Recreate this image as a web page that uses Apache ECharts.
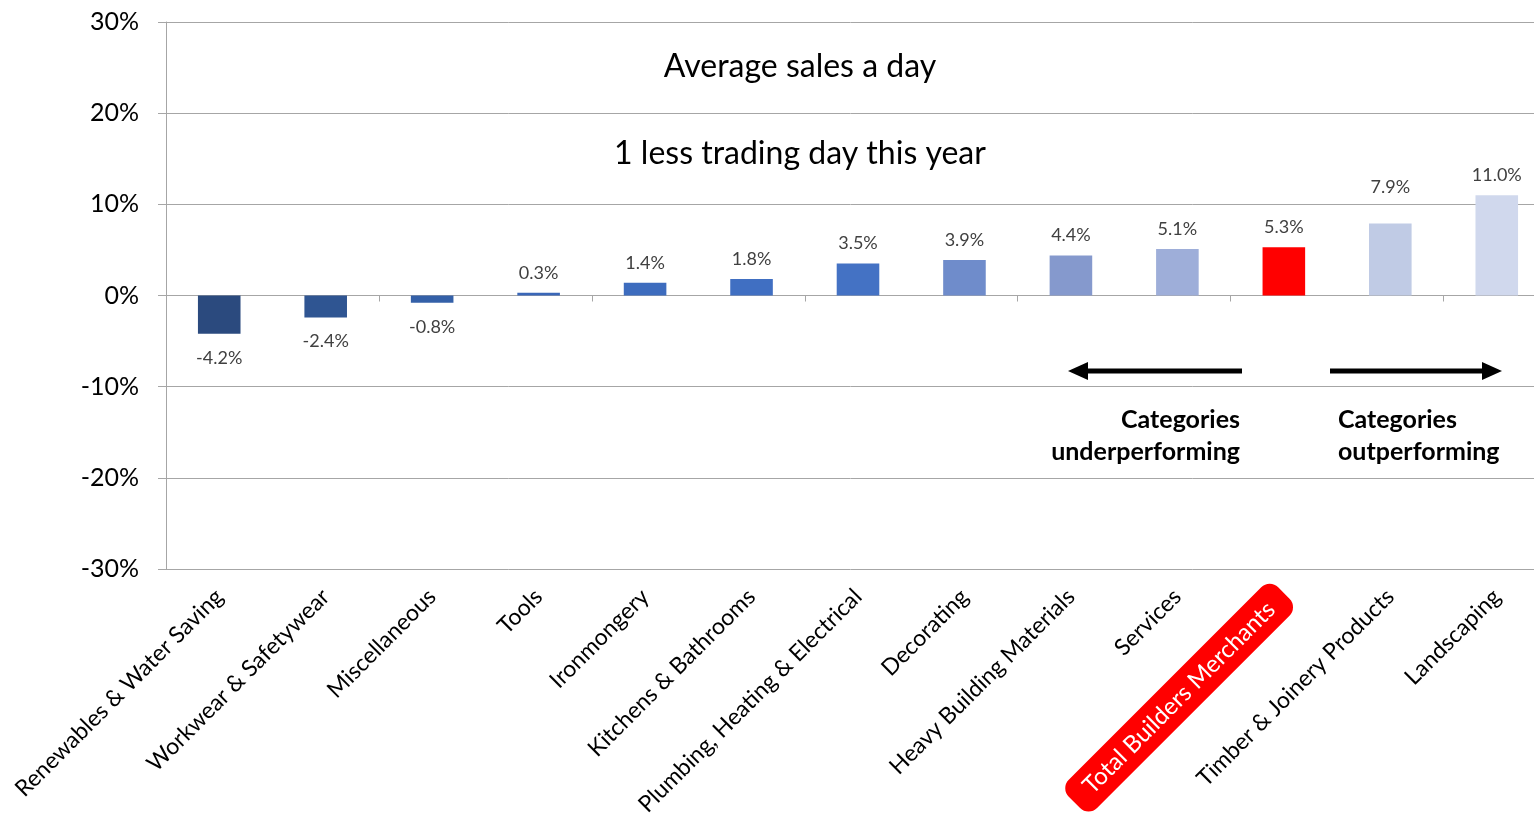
<!DOCTYPE html>
<html>
<head>
<meta charset="utf-8">
<script src="https://cdn.jsdelivr.net/npm/echarts@6/dist/echarts.min.js"></script>
<style>
  html, body { margin: 0; padding: 0; background: #fff; }
  #main { width: 1534px; height: 821px; }
</style>
</head>
<body>
<div id="main"></div>
<script>
// data
const categories = [
  'Renewables & Water Saving', 'Workwear & Safetywear', 'Miscellaneous', 'Tools',
  'Ironmongery', 'Kitchens & Bathrooms', 'Plumbing, Heating & Electrical', 'Decorating',
  'Heavy Building Materials', 'Services', 'Total Builders Merchants',
  'Timber & Joinery Products', 'Landscaping'
];
const values = [-4.2, -2.4, -0.8, 0.3, 1.4, 1.8, 3.5, 3.9, 4.4, 5.1, 5.3, 7.9, 11.0];
const yMin = -30, yMax = 30, yStep = 10;
const totalName = 'Total Builders Merchants';

// bar colours, dark blue -> light, total in red
const barColors = [
  '#2b4a7e', '#2f5592', '#3460a8', '#3a67b8', '#3d6cbe', '#406fc2', '#4472c4',
  '#6f8ccb', '#8599cd', '#9eaed9', '#ff0000', '#c0cbe5', '#d0d8ed'
];

const FONT = 'Lato, "Open Sans", sans-serif';
const chart = echarts.init(document.getElementById('main'));

const option = {
  animation: false,
  title: [
    {
      text: 'Average sales a day', left: 795, top: 46, textAlign: 'center',
      textStyle: { fontFamily: FONT, fontSize: 32, fontWeight: 'normal', color: '#000' }
    },
    {
      text: '1 less trading day this year', left: 795, top: 133, textAlign: 'center',
      textStyle: { fontFamily: FONT, fontSize: 32, fontWeight: 'normal', color: '#000' }
    }
  ],
  // plot runs a little past the right edge of the picture
  grid: { left: 166, width: 1384, top: 22, bottom: 252, containLabel: false, outerBoundsMode: 'none' },
  xAxis: [
    {
      type: 'category',
      data: categories,
      position: 'bottom',
      axisLine: { show: false, onZero: false },
      axisTick: { show: false },
      axisLabel: {
        rotate: 45,
        interval: 0,
        margin: 24,
        fontFamily: FONT,
        fontSize: 23,
        color: '#000',
        formatter: function (v) {
          return v === totalName ? '{hl|' + v + '}' : v;
        },
        rich: {
          hl: {
            backgroundColor: '#ff0000',
            color: '#fff',
            fontFamily: FONT,
            fontSize: 24,
            borderRadius: 12,
            padding: [8, 18, 8, 18]
          }
        }
      }
    },
    {
      type: 'category',
      data: categories,
      position: 'bottom',
      axisLine: { show: true, onZero: true, lineStyle: { color: '#a6a6a6', width: 1 } },
      axisTick: { show: true, length: 6, lineStyle: { color: '#a6a6a6' } },
      axisLabel: { show: false }
    }
  ],
  yAxis: {
    type: 'value',
    min: yMin,
    max: yMax,
    interval: yStep,
    axisLine: { show: true, lineStyle: { color: '#a6a6a6' } },
    axisTick: { show: true, length: 8, lineStyle: { color: '#a6a6a6' } },
    splitLine: { show: true, lineStyle: { color: '#a6a6a6', width: 1 } },
    axisLabel: {
      margin: 27,
      fontFamily: FONT,
      fontSize: 25,
      color: '#000',
      formatter: '{value}%'
    }
  },
  series: [
    {
      type: 'bar',
      xAxisIndex: 0,
      barWidth: '40%',
      data: values.map(function (v, i) {
        return {
          value: v,
          itemStyle: { color: barColors[i] },
          label: {
            position: v < 0 ? 'bottom' : 'top',
            // the 7.9% label sits higher in the original
            distance: v < 0 ? 15 : (i === 11 ? 27 : 11)
          }
        };
      }),
      label: {
        show: true,
        fontFamily: FONT,
        fontSize: 18,
        color: '#404040',
        formatter: function (p) { return p.value.toFixed(1) + '%'; }
      }
    }
  ],
  graphic: [
    // left arrow
    { type: 'line', shape: { x1: 1084, y1: 371, x2: 1242, y2: 371 }, style: { stroke: '#000', lineWidth: 5 } },
    { type: 'polygon', shape: { points: [[1068, 371], [1088, 362], [1088, 380]] }, style: { fill: '#000' } },
    // right arrow
    { type: 'line', shape: { x1: 1330, y1: 371, x2: 1486, y2: 371 }, style: { stroke: '#000', lineWidth: 5 } },
    { type: 'polygon', shape: { points: [[1502, 371], [1482, 362], [1482, 380]] }, style: { fill: '#000' } },
    {
      type: 'text', x: 1240, y: 404,
      style: {
        text: 'Categories\nunderperforming', align: 'right', verticalAlign: 'top',
        font: 'bold 25px ' + FONT, lineHeight: 32, fill: '#000'
      }
    },
    {
      type: 'text', x: 1338, y: 404,
      style: {
        text: 'Categories\noutperforming', align: 'left', verticalAlign: 'top',
        font: 'bold 25px ' + FONT, lineHeight: 32, fill: '#000'
      }
    }
  ]
};

chart.setOption(option);
</script>
</body>
</html>
